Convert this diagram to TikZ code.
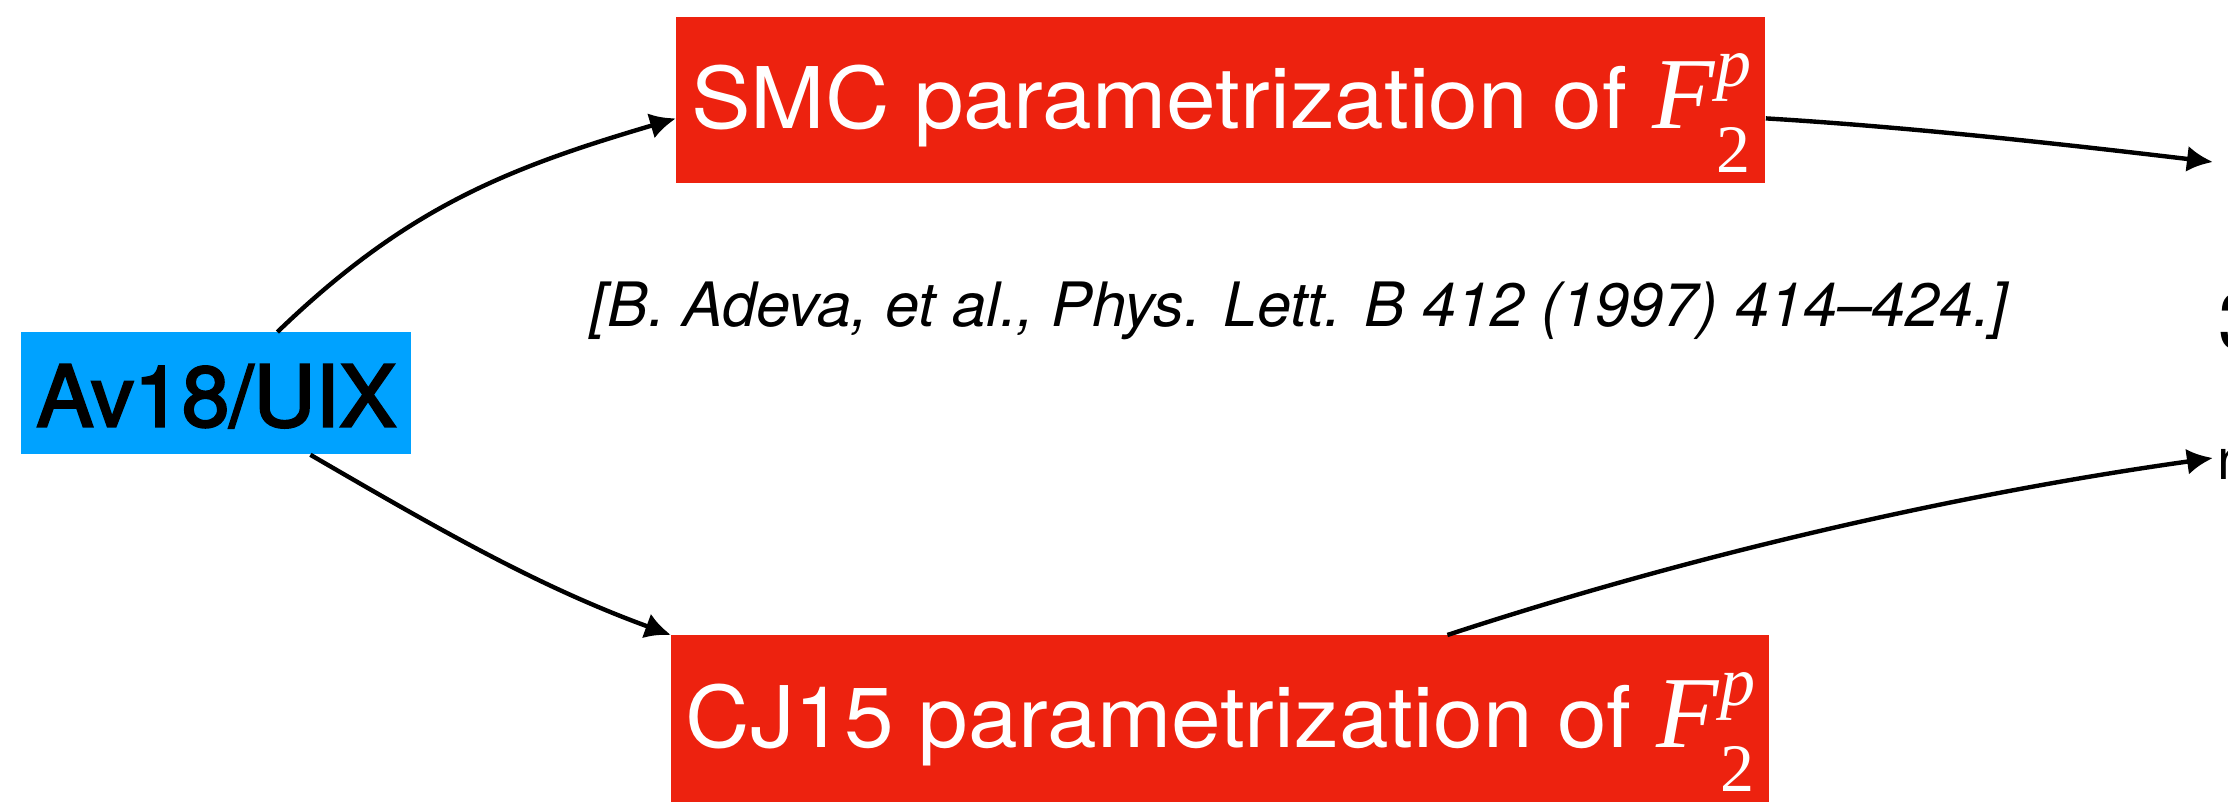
\documentclass[tikz,border=0pt]{standalone}
\usepackage{fontspec}
\setmainfont{TeX Gyre Heros}
\newfontfamily\wideheros[FakeStretch=1.05]{TeX Gyre Heros}
\newfontfamily\medheros[FakeStretch=1.01,FakeBold=2.6]{TeX Gyre Heros}
\newfontfamily\tms{Liberation Serif}
\usetikzlibrary{arrows.meta}
\definecolor{boxred}{RGB}{237,34,15}
\definecolor{boxblue}{RGB}{0,162,255}
% F_2^p set in a Times-like face
\newcommand{\Fptwo}{{\tms\itshape\fontsize{51}{51}\selectfont F}\kern1pt\rlap{\raisebox{21pt}{\tms\itshape\fontsize{35}{35}\selectfont p}}{\raisebox{-22pt}{\tms\fontsize{34}{34}\selectfont 2}}}
\tikzset{
  box/.style={inner sep=0pt, anchor=north west, align=center},
  redbox/.style={box, fill=boxred, text=white,
    font=\wideheros\fontsize{42.5}{50}\selectfont},
  bluebox/.style={box, fill=boxblue, text=black,
    font=\medheros\fontsize{42.5}{50}\selectfont},
  flow/.style={line width=2.2pt, -{Latex[length=13pt,width=13pt]}},
}
\begin{document}
\begin{tikzpicture}[x=0.5pt,y=-0.5pt]
\useasboundingbox (0,0) rectangle (2228,807);

\node[bluebox, minimum width=195pt, minimum height=61pt,
      text height=47pt, text depth=14pt] (av) at (21,332) {Av18/UIX};
\node[redbox, minimum width=544.5pt, minimum height=83pt,
      text height=55.5pt, text depth=27.5pt] (smc) at (676,17)
      {SMC parametrization of \Fptwo};
\node[redbox, minimum width=549pt, minimum height=83.5pt,
      text height=56pt, text depth=27.5pt] (cj) at (671,635)
      {CJ15 parametrization of \Fptwo};

\node[anchor=base west, inner sep=0pt,
      font=\itshape\fontsize{30.6}{36}\selectfont] (ref) at (590,327)
      {[B. Adeva, et al., Phys. Lett. B 412 (1997) 414--424.]};

% labels running off the right edge
\node[anchor=base west, inner sep=0pt, font=\fontsize{40}{40}\selectfont] (lab3) at (2218,350) {3};
\node[anchor=base west, inner sep=0pt, font=\fontsize{28.7}{30}\selectfont] (labn) at (2217,480) {n};

\coordinate (t1) at (2213,162);
\coordinate (t2) at (2213,458);

\draw[flow] ([xshift=30.5pt]av.north) .. controls (407,207) and (508,168) .. ([yshift=-9pt]smc.west);
\draw[flow] ([xshift=47pt]av.south) .. controls (440,530) and (537,586) .. (cj.north west);
\draw[flow] ([yshift=-9pt]smc.east) .. controls (1910,127) and (2070,145) .. (t1);
\draw[flow] ([xshift=113.5pt]cj.north) .. controls (1697,553) and (1963,493) .. (t2);
\end{tikzpicture}
\end{document}
